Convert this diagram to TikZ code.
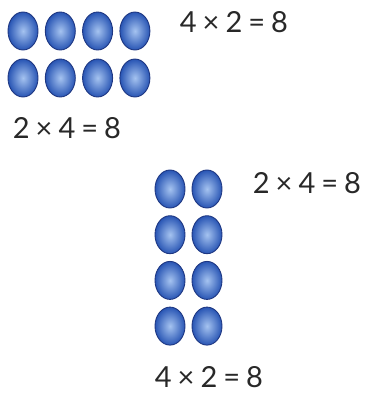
\documentclass[tikz,border=0pt]{standalone}
\usepackage{fontspec}
\setmainfont{Lato}
\usepackage{tikz}
\usetikzlibrary{shapes.geometric}
\definecolor{beadedge}{RGB}{30, 55, 130}
\definecolor{beadin}{RGB}{165, 195, 240}
\definecolor{beadout}{RGB}{40, 85, 180}
\definecolor{sumgray}{RGB}{40, 40, 40}
\newcommand{\gap}{\hspace{6pt}}

\begin{document}
\begin{tikzpicture}[
    x=1pt, y=-1pt,
    bead/.style={ellipse, draw=beadedge, line width=0.9pt, inner color=beadin, outer color=beadout,
                 minimum width=30pt, minimum height=38pt, inner sep=0pt},
    sum/.style={font=\fontsize{29}{32}\selectfont, text=sumgray, inner sep=0pt}
]
\useasboundingbox (0,0) rectangle (368,400);

% Top array: 2 rows of 4
\foreach \r in {1,2} {
  \foreach \c in {1,...,4} {
    \node[bead] (top-\r-\c) at ({23+37.3*(\c-1)}, {31+47*(\r-1)}) {};
  }
}
\node[sum] (topright) at (234,22) {4\gap×\gap2\gap=\gap8};
\node[sum] (topbelow) at (67,128) {2\gap×\gap4\gap=\gap8};

% Lower array: 4 rows of 2
\foreach \r in {1,...,4} {
  \foreach \c in {1,2} {
    \node[bead] (low-\r-\c) at ({170+37*(\c-1)}, {189+45.7*(\r-1)}) {};
  }
}
\node[sum] (lowright) at (307,183) {2\gap×\gap4\gap=\gap8};
\node[sum] (lowbelow) at (209,377) {4\gap×\gap2\gap=\gap8};

\end{tikzpicture}
\end{document}
